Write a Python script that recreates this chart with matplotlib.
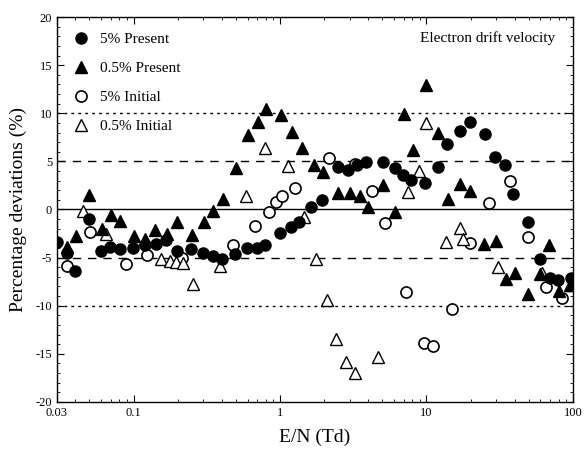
import matplotlib
matplotlib.use('Agg')

import matplotlib.pyplot as plt
from matplotlib.ticker import LogLocator, NullFormatter, MultipleLocator

plt.rcParams['font.family'] = ['Liberation Serif', 'DejaVu Serif']
plt.rcParams['axes.unicode_minus'] = False

## 5% Present (filled circles)
en_p5 = [0.030, 0.0349, 0.040, 0.0498, 0.0596, 0.069, 0.0807, 0.099, 0.1195, 0.142,
         0.166, 0.197, 0.248, 0.299, 0.350, 0.399, 0.496, 0.594, 0.692, 0.795,
         0.997, 1.18, 1.355, 1.64, 1.93, 2.49, 2.92, 3.33, 3.89, 5.05,
         6.06, 6.92, 7.89, 9.73, 12.0, 13.9, 16.9, 19.7, 25.0, 29.3,
         34.2, 39.0, 49.3, 59.3, 69.4, 79.1, 97.7]
dev_p5 = [-3.4, -4.5, -6.4, -1.0, -4.3, -3.9, -4.1, -4.0, -3.7, -3.6,
          -3.2, -4.3, -4.1, -4.55, -4.8, -5.1, -4.6, -4.05, -3.95, -3.7,
          -2.4, -1.8, -1.3, 0.3, 1.0, 4.45, 4.1, 4.6, 4.95, 4.95,
          4.3, 3.6, 3.1, 2.8, 4.45, 6.8, 8.2, 9.1, 7.8, 5.5,
          4.6, 1.6, -1.3, -5.1, -7.15, -7.3, -7.15]

## 0.5% Present (filled triangles)
en_p05 = [0.0351, 0.0404, 0.050, 0.0604, 0.0698, 0.0807, 0.100, 0.1206, 0.140, 0.168,
          0.198, 0.250, 0.302, 0.351, 0.405, 0.500, 0.607, 0.703, 0.802, 1.008,
          1.209, 1.404, 1.71, 1.97, 2.49, 3.0, 3.51, 3.99, 5.05, 6.06,
          7.02, 8.03, 10.0, 12.0, 14.06, 16.9, 19.9, 24.8, 30.0, 35.1,
          40.0, 49.3, 59.3, 69.1, 80.0, 97.7]
dev_p05 = [-3.9, -2.8, 1.5, -2.0, -0.55, -1.2, -2.8, -3.1, -2.1, -2.5,
           -1.35, -2.7, -1.35, -0.2, 1.1, 4.3, 7.7, 9.1, 10.4, 9.8,
           8.1, 6.4, 4.6, 3.9, 1.75, 1.7, 1.45, 0.25, 2.55, -0.3,
           9.9, 6.2, 12.9, 8.0, 1.1, 2.65, 1.9, -3.6, -3.3, -7.2,
           -6.6, -8.8, -6.7, -3.7, -8.5, -7.8]

## 5% Initial (open circles)
en_i5 = [0.0349, 0.0504, 0.0885, 0.124, 0.214, 0.477, 0.674, 0.844, 0.934, 1.032,
         1.264, 2.16, 3.24, 4.24, 5.23, 7.30, 9.58, 11.1, 15.0, 19.8,
         26.6, 37.4, 49.3, 65.1, 84.3]
dev_i5 = [-5.9, -2.3, -5.7, -4.7, -5.0, -3.7, -1.75, -0.3, 0.75, 1.4,
          2.25, 5.35, 4.7, 1.9, -1.4, -8.6, -13.9, -14.15, -10.3, -3.5,
          0.7, 3.0, -2.9, -8.05, -9.2]

## 0.5% Initial (open triangles)
en_i05 = [0.0454, 0.0653, 0.155, 0.178, 0.195, 0.217, 0.256, 0.389, 0.584, 0.789,
          1.136, 1.452, 1.77, 2.08, 2.43, 2.82, 3.24, 4.64, 7.45, 8.95,
          10.0, 13.6, 16.9, 17.9, 30.8, 61.3, 95.3]
dev_i05 = [-0.2, -2.5, -5.1, -5.4, -5.5, -5.6, -7.7, -5.9, 1.45, 6.4,
           4.5, -0.8, -5.1, -9.4, -13.5, -15.8, -17.0, -15.3, 1.8, 4.0,
           9.0, -3.35, -1.9, -3.1, -6.0, -6.6, -7.8]

xticks = [0.03, 0.1, 1, 10, 100]
xticklabels = ['0.03', '0.1', '1', '10', '100']

fig = plt.figure(figsize=(5.84, 4.5), dpi=100)
ax = fig.add_axes([0.0976, 0.1067, 0.8834, 0.8555])

## reference lines
ax.axhline(0, color='black', lw=1.0, zorder=1)
for y in (5, -5):
    ax.axhline(y, color='black', lw=1.0, ls=(0, (6, 5)), zorder=1)
for y in (10, -10):
    ax.axhline(y, color='black', lw=1.0, ls=(0, (2, 3)), zorder=1)

ax.plot(en_p5, dev_p5, 'o', color='black', ms=8, ls='none', label='5% Present', zorder=3)
ax.plot(en_p05, dev_p05, '^', color='black', ms=8, ls='none', label='0.5% Present', zorder=3)
ax.plot(en_i5, dev_i5, 'o', mfc='white', mec='black', mew=1.2, ms=8, ls='none',
        label='5% Initial', zorder=2)
ax.plot(en_i05, dev_i05, '^', mfc='white', mec='black', mew=1.0, ms=9, ls='none',
        label='0.5% Initial', zorder=2)

ax.set_xscale('log')
ax.set_xlim(0.03, 100)
ax.set_ylim(-20, 20)
ax.set_xticks(xticks)
ax.set_xticklabels(xticklabels)
ax.xaxis.set_minor_locator(LogLocator(base=10, subs=range(2, 10)))
ax.xaxis.set_minor_formatter(NullFormatter())
ax.yaxis.set_major_locator(MultipleLocator(5))
ax.yaxis.set_minor_locator(MultipleLocator(1))

ax.tick_params(which='both', direction='in', top=True, right=True, labelsize=9)
ax.tick_params(which='major', length=5)
ax.tick_params(which='minor', length=2.5)
for sp in ax.spines.values():
    sp.set_linewidth(1.0)

ax.set_xlabel('E/N (Td)', fontsize=14, labelpad=7)
ax.set_ylabel('Percentage deviations (%)', fontsize=14, labelpad=6)

ax.legend(loc='upper left', frameon=False, fontsize=11, handletextpad=0.6,
          labelspacing=1.0, borderaxespad=0.6, handlelength=1.2)

ax.text(0.965, 0.945, 'Electron drift velocity', transform=ax.transAxes,
        ha='right', va='center', fontsize=11)

plt.savefig('out.png', dpi=100)
